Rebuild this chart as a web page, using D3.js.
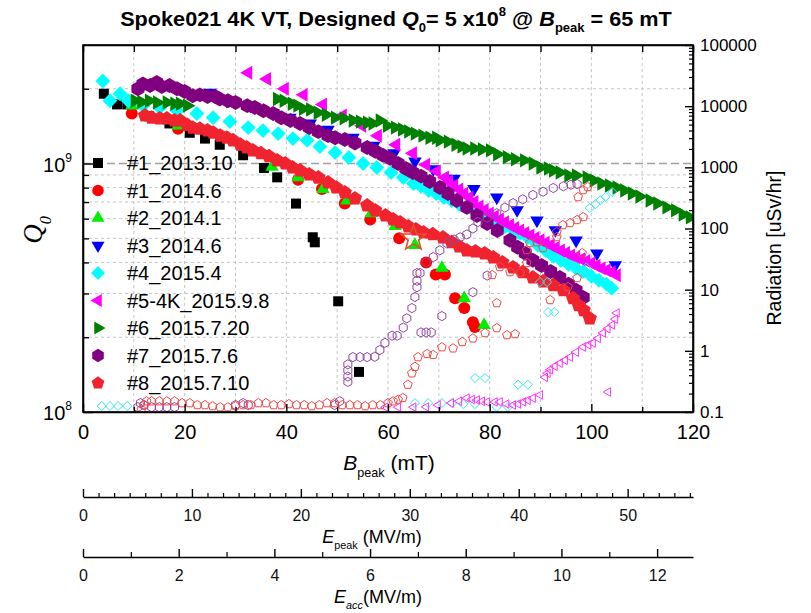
<!DOCTYPE html>
<html>
<head>
<meta charset="utf-8">
<script src="https://cdn.jsdelivr.net/npm/d3@7"></script>
<style>
  body { margin: 0; background: #fff; }
  svg { font-family: "Liberation Sans", Arial, sans-serif; }
</style>
</head>
<body>
<script>
// ---- Data: Q0 values are given in units of 1e8, radiation in uSv/hr ----
const Q_UNIT = 1e8

const seriesNames = ["#1_2013.10", "#1_2014.6", "#2_2014.1", "#3_2014.6", "#4_2015.4",
                     "#5-4K_2015.9.8", "#6_2015.7.20", "#7_2015.7.6", "#8_2015.7.10"]

// [Bpeak (mT), Q0 / 1e8]
const q1_2013_10 = [[4.1,19.1],[6.7,17.3],[8.7,17.3],[13,15.5],[17,14.5],[21,13.3],[24.0,12.6],[26.9,11.9],
  [31.5,10.8],[35.6,9.6],[38.2,8.8],[41.9,6.9],[45.2,5.05],[45.6,4.82],[50.2,2.79],[54.3,1.45]]

const q1_2014_6 = [[9.6,15.9],[18.7,13.8],[42.3,8.6],[47.0,7.9],[51.5,6.9],[56.5,5.96],[62.2,5.0],
  [67.5,4.0],[69.4,3.58],[71.2,3.58],[73.2,2.87],[75.0,2.62],[76.7,2.3],[77.1,2.2]]

const q2_2014_1 = [[9.6,17.1],[18.7,14.2],[37.2,9.7],[42.3,8.8],[47.2,7.9],[51.9,7.1],[56.7,6.3],
  [61.4,5.6],[65.3,4.7],[70.6,3.8],[75.0,2.87],[78.9,2.24]]

const q3_2014_6 = [[25,19.3],[28.3,17.9],[32.9,17.1],[37.4,15.9],[40.7,15.3],[44.7,14.5],[48.2,13.7],
  [53.1,12.7],[57.2,11.8],[61.2,11.0],[65.3,10.2],[68.9,9.5],[73.0,8.7],[76.9,7.9],[81.4,7.3],
  [85.4,6.5],[89.3,5.9],[92.9,5.4],[97,4.9],[101.1,4.35],[104.7,3.9]]

const q4_2015_4 = [[3.9,21.5],[5.3,17.9],[7.3,19.1],[8.9,17.9],[11.8,17.1],[15.1,16.8],[18.5,16.3],
  [22.4,15.9],[25.6,15.3],[28.9,14.75],[32.5,13.95],[35.4,13.57],[38.4,13.2],[41.3,12.6],[44.1,12.4],
  [46.6,11.7],[49.6,11.07],[52.3,10.57],[55.1,10.0],[57.8,9.64],[60.6,9.2],[63.0,8.78],
  [65,8.31],[66.5,8.1],[68,7.79],[69.5,7.58],[71,7.3],[72.5,7.1],[74,6.85],[75.5,6.66],[77,6.42],
  [78.5,6.18],[80,5.96],[81.5,5.79],[83,5.58],[84.5,5.43],[86,5.24],[87.5,5.04],[89,4.82],[89.5,4.69],
  [91,4.47],[92.5,4.23],[94,4.08],[95.5,3.93],[97,3.79],[98.5,3.68],[100,3.52],[101.5,3.39],
  [103,3.27],[104,3.15]]

const q5_2015_9_8 = [[32.5,23.2],[36.2,21.9],[39.7,20.0],[43.4,18.9],[47.2,17.3],[51.1,15.6],[54.9,14.2],
  [58.0,12.95],[61.6,11.9],[64.9,11.0],[67.5,9.9],[69.6,9.3],[71.2,8.78],
  [72,8.47],[73,8.15],[74,7.86],[75,7.58],[76,7.30],[77,7.0],[78,6.72],[79,6.5],[80,6.30],[81,6.12],
  [82,5.96],[83,5.8],[84,5.64],[85,5.5],[86,5.38],[87,5.26],[88,5.14],[89,5.02],[90,4.91],[91,4.8],
  [92,4.69],[93,4.58],[94,4.47],[95,4.37],[96,4.27],[97,4.2],[98,4.12],[99,4.05],[100,3.97],
  [101,3.88],[102,3.79],[103,3.72],[104,3.65],[105,3.55]]

const q6_2015_7_20 = [[10.2,17.9],[11.5,17.7],[13,17.9],[14.6,17.6],[16.5,17.6],[18,17.4],[19.1,17.4],
  [20.5,17.1],[38.2,18.2],[39.5,17.9],[41.1,17.4],[42.2,17.1],[43.3,16.6],[44.7,16.5],[46.2,16.0],
  [47.8,15.7],[49.6,15.3],[51.3,15.2],[53.1,14.9],[54.5,14.75],[55.9,14.6],[57,14.5],[58.4,14.9],
  [59.8,14.2],[61.4,13.95],[62.8,13.7],[64,13.45],[65.3,13.2],[66.8,12.95],[68.2,12.7],[69.5,12.7],
  [70.2,12.4],[71.8,12.25],[73.3,11.9],[74.5,11.7],[75.5,11.5],[77,11.5],[78.5,11.4],[80.1,11.3],
  [81.5,10.9],[83.4,10.6],[85,10.4],[86.8,10.3],[88.5,10.0],[90,9.64],[91.5,9.55],[92.5,9.37],
  [93.8,9.2],[95.5,8.95],[97,8.95],[99.1,8.78],[100.5,8.55],[102,8.31],[103.5,8.16],[105,8.01],
  [106.5,7.79],[108,7.58],[109.5,7.37],[111.5,7.1],[113,6.91],[114.8,6.66],[116.5,6.48],[118,6.24],
  [119.4,6.07]]

const q7_2015_7_6 = [[10.8,20.0],[11.8,20.9],[13.2,20.6],[14.5,21.2],[15.5,20.4],[17,20.6],[18.5,20.0],
  [20,19.5],[21.6,18.75],[23,18.9],[24.5,18.6],[26,18.6],[26.9,18.2],[28.5,17.9],[30,17.6],[32.3,17.1],
  [33.8,16.8],[35.5,16.3],[37.4,15.9],[39,15.3],[40.8,14.9],[42.7,14.5],[44.5,13.95],[46.3,13.44],
  [48.2,12.95],[49.6,12.7],[51.5,12.5],[53.5,12.1],[55.9,11.6],[57.5,11.2],[59,10.8],[60.4,10.5],
  [62,10.0],[63.5,9.55],[64.9,9.2],[66.5,8.9],[68.2,8.47],[70.2,8.01],[71.8,7.58],[73.5,7.1],
  [75.5,6.66],[77.5,6.18],[79.5,5.74],[81.5,5.38],[84,4.91],[85.5,4.6],[87,4.35],[88.5,4.08],
  [90.2,3.89],[92,3.68],[93.8,3.48],[95.5,3.27],[97,3.09],[98.4,2.89]]

const q8_2015_7_10 = [[12.2,15.6],[13.5,15.3],[15.1,15.2],[16.5,15.2],[18,14.9],[19.1,14.9],[20.5,14.3],
  [21.6,13.95],[23,13.8],[24.5,13.6],[25.6,13.3],[27,12.95],[28.3,12.7],[29.5,12.4],[31,11.9],
  [32.2,11.6],[33.4,11.3],[35,11.0],[36.6,10.7],[38.2,10.3],[39.8,10.0],[41.2,9.64],[42.7,9.37],
  [44.5,9.04],[46.3,8.78],[48.2,8.39],[49.8,8.01],[51.5,7.65],[53.5,7.24],[55.9,6.78],[57.5,6.48],
  [59.5,6.18],[61,5.96],[62.4,5.79],[64,5.58],[65.5,5.43],[67,5.28],[68.8,5.19],[70.8,5.04],
  [72.5,4.82],[74,4.64],[75.5,4.47],[77.2,4.43],[79,4.35],[80.7,4.19],[82.5,4.0],[84.6,3.82],
  [86.5,3.65],[88.5,3.48],[90.5,3.35],[92.5,3.24],[94.5,3.09],[96.4,2.87],[97.5,2.69],[98.5,2.57],
  [99.7,2.38]]

// [Bpeak (mT), radiation (uSv/hr)]
const rad4_2015_4 = [[3.7,0.125],[5.3,0.125],[6.9,0.125],[8.7,0.125],[65.3,0.14],[67.9,0.14],[70.6,0.14],
  [72.6,0.14],[74.8,0.135],[77.1,0.135],[81.4,0.121],[83.6,0.121],[77.1,0.36],[79.1,0.36],[85.6,0.28],
  [87.5,0.28],[91.5,4.3],[92.7,4.3],[89.9,13.3],[91.3,13.3],[98.2,18],[99,23],[99.7,216],[100.8,250],
  [101.8,290],[102.8,330],[104.1,395]]

const rad5_2015_9_8 = [[59.5,0.12],[62,0.12],[65,0.12],[67.5,0.121],[69.8,0.13],[72.4,0.14],[74,0.15],
  [75.5,0.169],[76.5,0.16],[77.5,0.157],[78.5,0.15],[79.5,0.146],[81,0.146],[82,0.146],[83.3,0.135],
  [84.6,0.13],[85.6,0.135],[86.6,0.146],[87.5,0.155],[88.5,0.169],[89.9,0.19],[90.9,0.37],[91.4,0.43],
  [91.9,0.49],[92.8,0.56],[93.8,0.63],[94.8,0.7],[95.8,0.79],[97,0.95],[98.4,1.155],[99.4,1.25],
  [100.3,1.34],[101.3,1.6],[102.3,1.96],[103.2,2.3],[104.1,2.64],[104.7,3.3],[105,4.15],[103.3,0.212]]

const rad7_2015_7_6 = [[10.8,0.12],[11.3,0.14],[12,0.13],[13.5,0.12],[15,0.12],[16.5,0.12],[18,0.12],
  [30,0.13],[31.5,0.14],[32.5,0.13],[49.5,0.13],[50.5,0.15],
  [52.1,0.31],[52.1,0.38],[52.1,0.48],[52.1,0.6],[53.1,0.79],[54.5,0.79],[55.9,0.79],[57.4,0.8],
  [58.4,1.03],[59.4,1.35],[60.8,1.77],[61.8,1.77],[63.0,2.4],[63.7,3.4],[64.7,5.0],[65.3,7.6],
  [65.7,11],[65.7,14],[65.7,18.7],[66.3,18.7],[66.5,2.0],[67.5,2.0],[68.5,2.0],[70.6,3.7],[67.5,28],
  [68.9,34],[70.2,44],[71.6,57],[73,66],[74.2,72],[75.5,80],[76.7,100],[77.7,128],[79.5,150],
  [81.4,178],[83,220],[84.6,260],[86.5,300],[88.5,353],[90.5,400],[92.5,459],[94.5,490],[96,520],
  [97.2,533],[76.7,9.1],[79.5,17]]

const rad8_2015_7_10 = [[11.5,0.11],[12,0.13],[12.5,0.15],[13.5,0.15],[15,0.15],[16.5,0.15],[18,0.15],
  [19.5,0.14],[21,0.14],[22.5,0.13],[24,0.13],[25.5,0.125],[27,0.12],[28.5,0.12],[30,0.125],
  [31.5,0.13],[33,0.13],[34.5,0.14],[36,0.14],[37.5,0.13],[39,0.13],[40.5,0.135],[42,0.13],
  [43.5,0.13],[45,0.125],[46.5,0.13],[48,0.14],[49.5,0.14],[51,0.13],[52.5,0.13],[54,0.13],
  [55.5,0.125],[57,0.13],[58.5,0.13],[60,0.14],[61,0.15],[62,0.16],
  [62.9,0.17],[63.9,0.28],[64.7,0.43],[65.3,0.55],[65.9,0.79],[67.7,0.89],[68.9,0.86],[70.6,1.15],
  [72.8,1.1],[74.6,1.4],[76.7,1.6],[79.1,1.96],[81.4,2.36],[83.4,1.81],[85,1.88],[81.4,6.05],
  [80.5,17.4],[82,23.5],[84,19.4],[86,18.7],[87.3,27.3],[87.3,44.5],[87.9,57.9],[89.3,60.1],
  [90.5,48],[91.9,6.78],[93.2,72.6],[93.2,87.6],[94.4,114],[95.8,123],[97.2,138],[98.4,154],
  [95.4,11.1],[97.2,15.5],[98.2,39.7],[97.4,327],[98.4,426],[99.3,477]]

const designPoint = [65, 5]   // Bpeak 65 mT, Q0 5e8

// tick labels
const bTicks = [0, 20, 40, 60, 80, 100, 120]
const epTicks = [0, 10, 20, 30, 40, 50]
const eaTicks = [0, 2, 4, 6, 8, 10, 12]
const radTicks = [0.1, 1, 10, 100, 1000, 10000, 100000]
const radLabels = ["0.1", "1", "10", "100", "1000", "10000", "100000"]

// ---- Layout ----
const width = 811, height = 613
const L = 83, R = 693, T = 45, B = 412

const x   = d3.scaleLinear().domain([0, 120]).range([L, R])
const yQ  = d3.scaleLog().domain([1e8, 3e9]).range([B, T])
const yR  = d3.scaleLog().domain([0.1, 1e5]).range([B, T])
const xEp = d3.scaleLinear().domain([0, 56]).range([L, R])
const xEa = d3.scaleLinear().domain([0, 12.75]).range([L, R])

const svg = d3.select("body").append("svg")
  .attr("width", width).attr("height", height)

// marker shapes
function poly(n, r, rot) {
  const pts = d3.range(n).map(i => {
    const a = rot + i * 2 * Math.PI / n
    return [r * Math.cos(a), r * Math.sin(a)]
  })
  return "M" + pts.map(p => p[0].toFixed(2) + "," + p[1].toFixed(2)).join("L") + "Z"
}
function starPath(ro, ri) {
  const pts = d3.range(10).map(i => {
    const a = -Math.PI / 2 + i * Math.PI / 5, r = i % 2 ? ri : ro
    return [r * Math.cos(a), r * Math.sin(a)]
  })
  return "M" + pts.map(p => p[0].toFixed(2) + "," + p[1].toFixed(2)).join("L") + "Z"
}
const up = -Math.PI / 2
const shape = {
  square:   s => "M" + (-s) + "," + (-s) + "h" + 2 * s + "v" + 2 * s + "h" + (-2 * s) + "Z",
  circle:   s => d3.symbol(d3.symbolCircle, Math.PI * s * s)(),
  triUp:    s => poly(3, s * 1.3, up),
  triDown:  s => poly(3, s * 1.3, -up),
  diamond:  s => poly(4, s * 1.2, up),
  triLeft:  s => poly(3, s * 1.3, Math.PI),
  triRight: s => poly(3, s * 1.3, 0),
  hexagon:  s => poly(6, s * 1.15, up),
  pentagon: s => poly(5, s * 1.15, up)
}

const filled = [
  {data: q1_2013_10,   color: "#000000", shape: "square",   size: 5},
  {data: q1_2014_6,    color: "#ff0000", shape: "circle",   size: 6},
  {data: q2_2014_1,    color: "#00ee00", shape: "triUp",    size: 6},
  {data: q3_2014_6,    color: "#0000ff", shape: "triDown",  size: 6},
  {data: q4_2015_4,    color: "#00ffff", shape: "diamond",  size: 6.2},
  {data: q5_2015_9_8,  color: "#ff00ff", shape: "triLeft",  size: 6.2},
  {data: q6_2015_7_20, color: "#008000", shape: "triRight", size: 6.4},
  {data: q7_2015_7_6,  color: "#800080", shape: "hexagon",  size: 6.5},
  {data: q8_2015_7_10, color: "#f0242e", shape: "pentagon", size: 6.5}
]
const hollow = [
  {data: rad4_2015_4,    color: "#33e6f2", shape: "diamond",  size: 3.8},
  {data: rad5_2015_9_8,  color: "#ff33ff", shape: "triLeft",  size: 3.8},
  {data: rad7_2015_7_6,  color: "#92459f", shape: "hexagon",  size: 4},
  {data: rad8_2015_7_10, color: "#f04848", shape: "pentagon", size: 4}
]

// ---- Grid ----
const grid = svg.append("g")
grid.selectAll(".vg").data(d3.range(10, 120, 10)).enter().append("line")
  .attr("x1", d => x(d)).attr("x2", d => x(d)).attr("y1", T).attr("y2", B)
  .attr("stroke", "#c4c4c4").attr("stroke-dasharray", "3,3")
const qMinor = d3.range(2, 10).map(k => k * 1e8).concat([2e9])
grid.selectAll(".hg").data(qMinor).enter().append("line")
  .attr("x1", L).attr("x2", R).attr("y1", d => yQ(d)).attr("y2", d => yQ(d))
  .attr("stroke", "#c4c4c4").attr("stroke-dasharray", "3,3")
grid.append("line")
  .attr("x1", L).attr("x2", R).attr("y1", yQ(1e9)).attr("y2", yQ(1e9))
  .attr("stroke", "#a0a0a0").attr("stroke-width", 1.5).attr("stroke-dasharray", "8,4")

// ---- Markers ----
svg.append("clipPath").attr("id", "clip").append("rect")
  .attr("x", L).attr("y", T).attr("width", R - L).attr("height", B - T)
const marks = svg.append("g").attr("clip-path", "url(#clip)")

filled.forEach(s => {
  marks.append("g").selectAll("path").data(s.data).enter().append("path")
    .attr("d", shape[s.shape](s.size))
    .attr("transform", d => "translate(" + x(d[0]) + "," + yQ(d[1] * Q_UNIT) + ")")
    .attr("fill", s.color)
})
hollow.forEach(s => {
  marks.append("g").selectAll("path").data(s.data).enter().append("path")
    .attr("d", shape[s.shape](s.size))
    .attr("transform", d => "translate(" + x(d[0]) + "," + yR(d[1]) + ")")
    .attr("fill", "none").attr("stroke", s.color).attr("stroke-width", 1)
})
marks.append("path")
  .attr("d", starPath(13, 5.5))
  .attr("transform", "translate(" + x(designPoint[0]) + "," + yQ(designPoint[1] * Q_UNIT) + ")")
  .attr("fill", "none").attr("stroke", "#e0522c").attr("stroke-width", 1.6)

// ---- Frame and axes ----
function styleAxis(g, w) {
  g.select(".domain").attr("stroke", "#000").attr("stroke-width", w)
  g.selectAll(".tick line").attr("stroke", "#000").attr("stroke-width", 1.4)
}
function ticksOnly(g) { g.select(".domain").remove(); g.selectAll("text").remove() }

// bottom Bpeak axis
const xb = svg.append("g").attr("transform", "translate(0," + B + ")")
  .call(d3.axisBottom(x).tickValues(bTicks).tickSize(-8).tickSizeOuter(0).tickPadding(13))
styleAxis(xb, 1.6)
xb.selectAll("text").attr("font-size", 20).attr("fill", "#000")
  .attr("font-family", "Liberation Sans, Arial, sans-serif")
svg.append("g").attr("transform", "translate(0," + B + ")")
  .call(d3.axisBottom(x).tickValues(d3.range(10, 120, 20)).tickSize(-5)).call(ticksOnly)
  .selectAll("line").attr("stroke", "#000").attr("stroke-width", 1.4)

// top axis
svg.append("g").attr("transform", "translate(0," + T + ")")
  .call(d3.axisTop(x).tickValues(d3.range(0, 121, 10)).tickSize(-7).tickSizeOuter(0).tickFormat(""))
  .call(g => styleAxis(g, 1.6))

// left Q0 axis
const yl = svg.append("g").attr("transform", "translate(" + L + ",0)")
  .call(d3.axisLeft(yQ).tickValues([1e8, 1e9]).tickSize(-10).tickSizeOuter(0).tickFormat(""))
styleAxis(yl, 1.6)
svg.append("g").attr("transform", "translate(" + L + ",0)")
  .call(d3.axisLeft(yQ).tickValues(qMinor).tickSize(-6)).call(ticksOnly)
  .selectAll("line").attr("stroke", "#000").attr("stroke-width", 1.4)

// right radiation axis
const minorR = []
radTicks.slice(0, -1).forEach(t => d3.range(2, 10).forEach(k => minorR.push(t * k)))
const yr = svg.append("g").attr("transform", "translate(" + R + ",0)")
  .call(d3.axisRight(yR).tickValues(radTicks).tickSize(-8).tickSizeOuter(0).tickPadding(7)
    .tickFormat((d, i) => radLabels[i]))
styleAxis(yr, 1.6)
yr.selectAll("text").attr("font-size", 17).attr("fill", "#000")
  .attr("font-family", "Liberation Sans, Arial, sans-serif")
svg.append("g").attr("transform", "translate(" + R + ",0)")
  .call(d3.axisRight(yR).tickValues(minorR).tickSize(-4)).call(ticksOnly)
  .selectAll("line").attr("stroke", "#000").attr("stroke-width", 1.2)

svg.append("rect").attr("x", L).attr("y", T).attr("width", R - L).attr("height", B - T)
  .attr("fill", "none").attr("stroke", "#000").attr("stroke-width", 1.6)

// Epeak axis
const epY = 497
const ep = svg.append("g").attr("transform", "translate(0," + epY + ")")
  .call(d3.axisBottom(xEp).tickValues(epTicks).tickSize(-8).tickSizeOuter(0).tickPadding(13))
styleAxis(ep, 1.6)
ep.selectAll("text").attr("font-size", 16).attr("fill", "#111")
  .attr("font-family", "Liberation Sans, Arial, sans-serif")
svg.append("g").attr("transform", "translate(0," + epY + ")")
  .call(d3.axisBottom(xEp).tickValues(d3.range(1, 40).filter(k => k % 7).map(k => k * 10 / 7)).tickSize(-4))
  .call(ticksOnly).selectAll("line").attr("stroke", "#000").attr("stroke-width", 1.2)

// Eacc axis
const eaY = 557
const ea = svg.append("g").attr("transform", "translate(0," + eaY + ")")
  .call(d3.axisBottom(xEa).tickValues(eaTicks).tickSize(-8).tickSizeOuter(0).tickPadding(13))
styleAxis(ea, 1.6)
ea.selectAll("text").attr("font-size", 16).attr("fill", "#111")
  .attr("font-family", "Liberation Sans, Arial, sans-serif")
svg.append("g").attr("transform", "translate(0," + eaY + ")")
  .call(d3.axisBottom(xEa).tickValues(d3.range(1, 13, 2)).tickSize(-5))
  .call(ticksOnly).selectAll("line").attr("stroke", "#000").attr("stroke-width", 1.2)

// ---- Texts ----
function rich(text, parts, size) {
  let shift = 0
  parts.forEach(p => {
    const target = p.sub ? size * 0.32 : p.sup ? -size * 0.5 : 0
    const ts = text.append("tspan").text(p.t).attr("dy", target - shift)
    shift = target
    if (p.sub || p.sup) ts.attr("font-size", size * 0.6)
    if (p.it) ts.attr("font-style", "italic")
  })
  return text
}

// title, squeezed to the reference width
const title = svg.append("text").attr("text-anchor", "middle").attr("x", 0).attr("y", 0)
  .attr("font-size", 20).attr("font-weight", "bold")
rich(title, [{t: "Spoke021 4K VT, Designed "}, {t: "Q", it: 1}, {t: "0", sub: 1}, {t: "= 5 x10"},
  {t: "8", sup: 1}, {t: " @ "}, {t: "B", it: 1}, {t: "peak", sub: 1}, {t: " = 65 mT"}], 20)
const tw = title.node().getComputedTextLength()
title.attr("transform", "translate(396,26) scale(" + (552 / tw) + ",1)")

// left decade labels
;[[1e8, "8"], [1e9, "9"]].forEach(([v, e]) => {
  rich(svg.append("text").attr("x", 72).attr("y", yQ(v) + 8).attr("text-anchor", "end")
    .attr("font-size", 20), [{t: "10"}, {t: e, sup: 1}], 20)
})

// Q0 label
rich(svg.append("text").attr("transform", "translate(42,230) rotate(-90)")
  .attr("text-anchor", "middle").attr("font-size", 27)
  .attr("font-family", "Liberation Serif, Times New Roman, serif"),
  [{t: "Q", it: 1}, {t: "0", sub: 1, it: 1}], 27)

// radiation label
svg.append("text").attr("transform", "translate(781,248) rotate(-90)")
  .attr("text-anchor", "middle").attr("font-size", 19.5).text("Radiation [uSv/hr]")

// axis titles
rich(svg.append("text").attr("x", 389).attr("y", 470).attr("text-anchor", "middle").attr("font-size", 21),
  [{t: "B", it: 1}, {t: "peak", sub: 1}, {t: " (mT)"}], 21)
rich(svg.append("text").attr("x", 372).attr("y", 543).attr("text-anchor", "middle").attr("font-size", 18),
  [{t: "E", it: 1}, {t: "peak", sub: 1}, {t: " (MV/m)"}], 18)
rich(svg.append("text").attr("x", 378).attr("y", 603).attr("text-anchor", "middle").attr("font-size", 18),
  [{t: "E", it: 1}, {t: "acc", sub: 1, it: 1}, {t: "(MV/m)"}], 18)

// ---- Legend ----
const legend = svg.append("g")
seriesNames.forEach((name, i) => {
  const s = filled[i], ly = 163 + i * 27.5
  legend.append("path").attr("d", shape[s.shape](Math.min(s.size, 5.8)))
    .attr("transform", "translate(98," + ly + ")").attr("fill", s.color)
  legend.append("text").attr("x", 127).attr("y", ly + 7).attr("font-size", 20).text(name)
})
</script>
</body>
</html>
